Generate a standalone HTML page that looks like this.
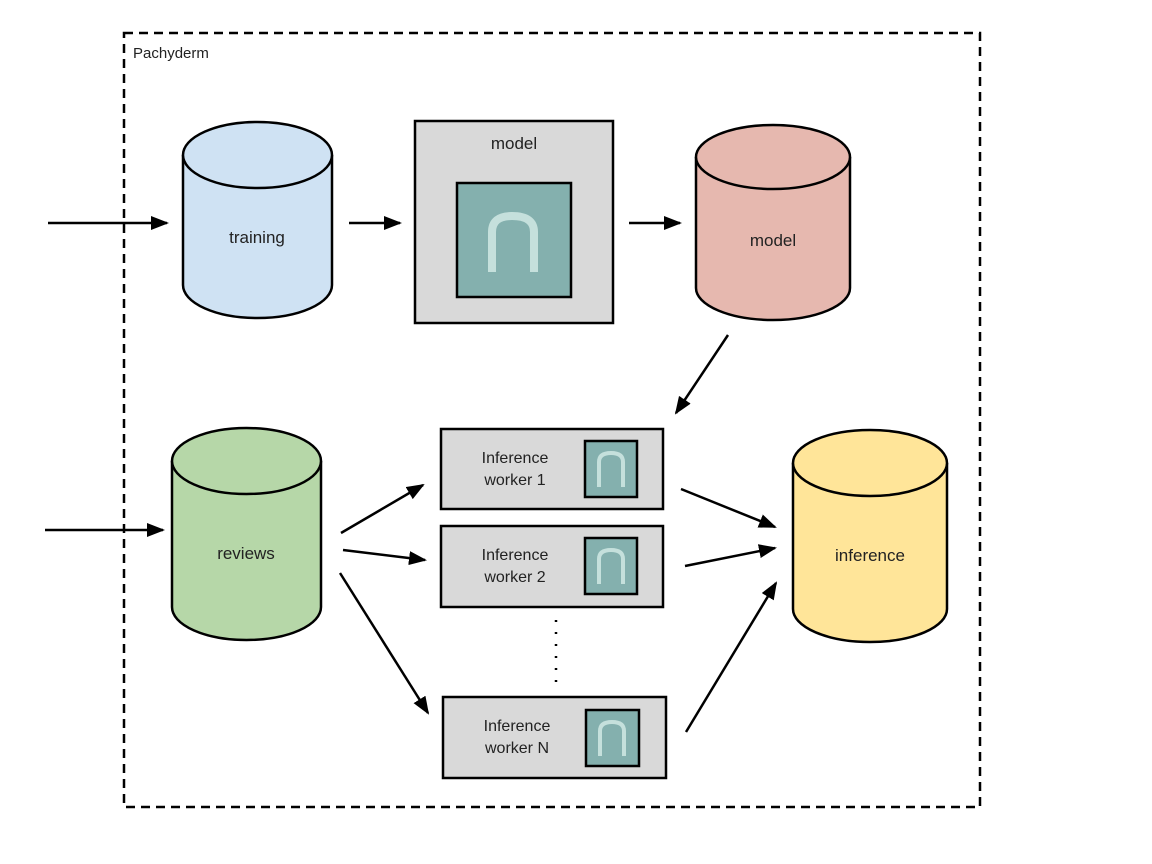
<!DOCTYPE html>
<html><head><style>body{margin:0;background:#fff}svg{display:block}text{font-family:"Liberation Sans",sans-serif;fill:#222}</style></head>
<body>
<svg width="1152" height="864" viewBox="0 0 1152 864" xmlns="http://www.w3.org/2000/svg">
<defs>
<marker id="ah" markerWidth="18" markerHeight="14" refX="16" refY="7" orient="auto" markerUnits="userSpaceOnUse"><path d="M0,0 L18,7 L0,14 z" fill="#000"/></marker>
</defs>
<rect x="124" y="33" width="856" height="774" fill="none" stroke="#000" stroke-width="2.5" stroke-dasharray="9,6"/>
<text x="133" y="58" font-size="15">Pachyderm</text>

<path d="M183,155 V285 A74.5,33 0 0 0 332,285 V155" fill="#cfe2f3" stroke="#000" stroke-width="2.5"/>
<ellipse cx="257.5" cy="155" rx="74.5" ry="33" fill="#cfe2f3" stroke="#000" stroke-width="2.5"/>
<text x="257" y="243" font-size="17" text-anchor="middle">training</text>

<rect x="415" y="121" width="198" height="202" fill="#d9d9d9" stroke="#000" stroke-width="2.5"/>
<text x="514" y="149" font-size="17" text-anchor="middle">model</text>
<rect x="457" y="183" width="114" height="114" fill="#84b0ae" stroke="#000" stroke-width="2.5"/>
<path d="M492,272 V232 Q492,216 512,216 Q534,216 534,232 V272" fill="none" stroke="#c5e0dc" stroke-width="8"/>

<path d="M696,157 V288 A77,32 0 0 0 850,288 V157" fill="#e6b8af" stroke="#000" stroke-width="2.5"/>
<ellipse cx="773" cy="157" rx="77" ry="32" fill="#e6b8af" stroke="#000" stroke-width="2.5"/>
<text x="773" y="246" font-size="17" text-anchor="middle">model</text>

<path d="M172,461 V607 A74.5,33 0 0 0 321,607 V461" fill="#b6d7a8" stroke="#000" stroke-width="2.5"/>
<ellipse cx="246.5" cy="461" rx="74.5" ry="33" fill="#b6d7a8" stroke="#000" stroke-width="2.5"/>
<text x="246" y="559" font-size="17" text-anchor="middle">reviews</text>

<path d="M793,463 V609 A77,33 0 0 0 947,609 V463" fill="#ffe599" stroke="#000" stroke-width="2.5"/>
<ellipse cx="870" cy="463" rx="77" ry="33" fill="#ffe599" stroke="#000" stroke-width="2.5"/>
<text x="870" y="561" font-size="17" text-anchor="middle">inference</text>

<rect x="441" y="429" width="222" height="80" fill="#d9d9d9" stroke="#000" stroke-width="2.5"/>
<text x="515" y="463" font-size="16" text-anchor="middle">Inference</text>
<text x="515" y="485" font-size="16" text-anchor="middle">worker 1</text>
<rect x="585" y="441" width="52" height="56" fill="#84b0ae" stroke="#000" stroke-width="2.5"/>
<path d="M599,487 V462 Q599,453 611,453 Q623,453 623,462 V487" fill="none" stroke="#c5e0dc" stroke-width="4"/>

<rect x="441" y="526" width="222" height="81" fill="#d9d9d9" stroke="#000" stroke-width="2.5"/>
<text x="515" y="560" font-size="16" text-anchor="middle">Inference</text>
<text x="515" y="582" font-size="16" text-anchor="middle">worker 2</text>
<rect x="585" y="538" width="52" height="56" fill="#84b0ae" stroke="#000" stroke-width="2.5"/>
<path d="M599,584 V559 Q599,550 611,550 Q623,550 623,559 V584" fill="none" stroke="#c5e0dc" stroke-width="4"/>

<rect x="443" y="697" width="223" height="81" fill="#d9d9d9" stroke="#000" stroke-width="2.5"/>
<text x="517" y="731" font-size="16" text-anchor="middle">Inference</text>
<text x="517" y="753" font-size="16" text-anchor="middle">worker N</text>
<rect x="586" y="710" width="53" height="56" fill="#84b0ae" stroke="#000" stroke-width="2.5"/>
<path d="M600,756 V731 Q600,722 612,722 Q624,722 624,731 V756" fill="none" stroke="#c5e0dc" stroke-width="4"/>

<line x1="556" y1="620" x2="556" y2="682" stroke="#000" stroke-width="2.5" stroke-dasharray="2,10"/>

<g stroke="#000" stroke-width="2.5" marker-end="url(#ah)">
<line x1="48" y1="223" x2="167" y2="223"/>
<line x1="349" y1="223" x2="400" y2="223"/>
<line x1="629" y1="223" x2="680" y2="223"/>
<line x1="728" y1="335" x2="676" y2="413"/>
<line x1="45" y1="530" x2="163" y2="530"/>
<line x1="341" y1="533" x2="423" y2="485"/>
<line x1="343" y1="550" x2="425" y2="560"/>
<line x1="340" y1="573" x2="428" y2="713"/>
<line x1="681" y1="489" x2="775" y2="527"/>
<line x1="685" y1="566" x2="775" y2="548"/>
<line x1="686" y1="732" x2="776" y2="583"/>
</g>
</svg>
</body></html>
